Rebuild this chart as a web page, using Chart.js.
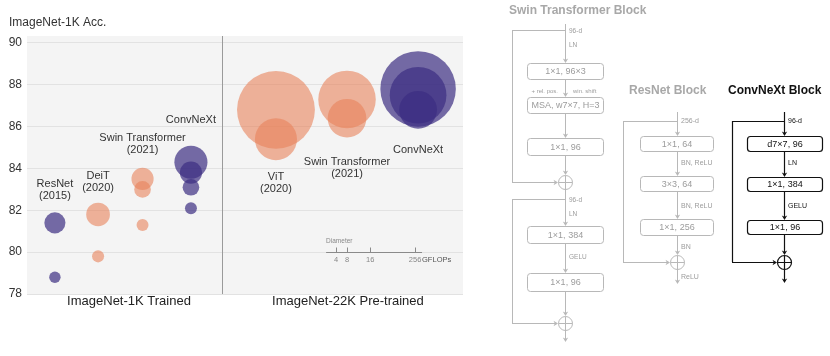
<!DOCTYPE html>
<html>
<head>
<meta charset="utf-8">
<script src="https://cdn.jsdelivr.net/npm/chart.js@4.4.1/dist/chart.umd.min.js"></script>
<style>
  html, body { margin: 0; padding: 0; background: #fff; }
  #wrap { width: 830px; height: 356px; }
</style>
</head>
<body>
<div id="wrap"><canvas id="accChart" width="830" height="356"></canvas></div>
<script>
// model families, left four trained on ImageNet-1K, right three pre-trained on 22K
const familyNames = ['ResNet', 'DeiT', 'Swin Transformer', 'ConvNeXt', 'ViT', 'Swin Transformer', 'ConvNeXt'];
const familyYears = ['(2015)', '(2020)', '(2021)', '', '(2020)', '(2021)', ''];
const familyColors = ['purple', 'orange', 'orange', 'purple', 'orange', 'orange', 'purple'];
const familyX = [0.64, 1.63, 2.65, 3.76, 5.71, 7.34, 8.97];
const familyLabelY = [83.26, 83.64, 85.46, 86.32, 83.6, 84.31, 84.89];

// top-1 accuracy and GFLOPs per model, one inner list per family
const familyAcc = [
    [78.8, 81.4],
    [79.8, 81.8],
    [81.3, 83.0, 83.5],
    [82.1, 83.1, 83.8, 84.3],
    [85.4, 86.8],
    [86.4, 87.3],
    [86.8, 87.5, 87.8],
];
const familyGflops = [
    [4.1, 14.0],
    [4.6, 17.6],
    [4.5, 8.7, 15.4],
    [4.5, 8.7, 15.4, 34.4],
    [55.5, 190.7],
    [47.0, 103.9],
    [45.1, 101.0, 179.0],
];

const yTicks = [78, 80, 82, 84, 86, 88, 90];
const groupTitles = ['ImageNet-1K Trained', 'ImageNet-22K Pre-trained'];
const groupTickX = [2.34, 7.36];
const dividerX = 4.47;
const legendGflops = [4, 8, 16, 256];
const legendTickX = [7.09, 7.34, 7.87, 8.90];

const FONT = "'Liberation Sans', Arial, Helvetica, sans-serif";
const colorMap = { orange: 'rgba(232,130,90,0.6)', purple: 'rgba(60,45,130,0.7)' };

// diameter grows with sqrt of FLOPs
function radiusFor(gflops) {
    return 2.82 * Math.sqrt(gflops);
}

function bubblesFor(color) {
    var pts = [];
    familyNames.forEach((name, i) => {
        if (familyColors[i] != color) return;
        familyAcc[i].forEach((acc, j) => {
            pts.push({ x: familyX[i], y: acc, r: radiusFor(familyGflops[i][j]) });
        });
    });
    pts.sort((a, b) => b.r - a.r);
    return pts;
}

const plotDecor = {
    id: 'plotDecor',
    beforeDraw(chart) {
        const { ctx, chartArea: a } = chart;
        ctx.save();
        ctx.fillStyle = '#f4f4f4';
        ctx.fillRect(a.left, a.top, a.right - a.left, a.bottom - a.top);
        ctx.restore();
    },
    beforeDatasetsDraw(chart) {
        const { ctx, chartArea: a, scales } = chart;
        const x = Math.round(scales.x.getPixelForValue(dividerX)) + 0.5;
        ctx.save();
        ctx.strokeStyle = '#9a9a9a';
        ctx.lineWidth = 1;
        ctx.beginPath();
        ctx.moveTo(x, a.top);
        ctx.lineTo(x, a.bottom);
        ctx.stroke();
        ctx.restore();
    },
    afterDatasetsDraw(chart) {
        const { ctx, scales } = chart;
        ctx.save();
        // y axis title
        ctx.fillStyle = '#333';
        ctx.font = '12px ' + FONT;
        ctx.textAlign = 'left';
        ctx.textBaseline = 'alphabetic';
        ctx.fillText('ImageNet-1K Acc.', 9, 26);

        // family labels
        ctx.font = '11px ' + FONT;
        ctx.textAlign = 'center';
        ctx.textBaseline = 'middle';
        familyNames.forEach((name, i) => {
            const px = scales.x.getPixelForValue(familyX[i]);
            const py = scales.y.getPixelForValue(familyLabelY[i]);
            ctx.fillText(name, px, py);
            if (familyYears[i]) ctx.fillText(familyYears[i], px, py + 12);
        });

        // diameter legend, sits on the 80 line
        const ly = Math.round(scales.y.getPixelForValue(80)) + 0.5;
        const lx0 = scales.x.getPixelForValue(6.86);
        const lx1 = scales.x.getPixelForValue(9.06);
        ctx.strokeStyle = '#8a8a8a';
        ctx.lineWidth = 1;
        ctx.beginPath();
        ctx.moveTo(lx0, ly);
        ctx.lineTo(lx1, ly);
        legendTickX.forEach(v => {
            const tx = Math.round(scales.x.getPixelForValue(v)) + 0.5;
            ctx.moveTo(tx, ly);
            ctx.lineTo(tx, ly - 5);
        });
        ctx.stroke();
        ctx.fillStyle = '#888';
        ctx.font = '6.5px ' + FONT;
        ctx.textAlign = 'left';
        ctx.fillText('Diameter', lx0, ly - 11);
        ctx.font = '7.5px ' + FONT;
        ctx.textAlign = 'center';
        legendGflops.forEach((g, i) => {
            ctx.fillText(String(g), scales.x.getPixelForValue(legendTickX[i]), ly + 7);
        });
        ctx.fillStyle = '#555';
        ctx.textAlign = 'left';
        ctx.fillText('GFLOPs', scales.x.getPixelForValue(legendTickX[3]) + 7, ly + 7);
        ctx.restore();
    },
    afterDraw(chart) {
        drawBlocks(chart.ctx);
    }
};

// ---- block diagrams on the right ----
function drawBlocks(ctx) {
    function vline(x, y1, y2, arrow) {
        ctx.beginPath();
        ctx.moveTo(x + 0.5, y1);
        ctx.lineTo(x + 0.5, arrow ? y2 - 3 : y2);
        ctx.stroke();
        if (arrow) {
            ctx.beginPath();
            ctx.moveTo(x + 0.5, y2);
            ctx.lineTo(x - 2.2, y2 - 4.5);
            ctx.lineTo(x + 0.5, y2 - 3.2);
            ctx.lineTo(x + 3.2, y2 - 4.5);
            ctx.closePath();
            ctx.fill();
        }
    }
    function hline(x1, x2, y, arrow) {
        ctx.beginPath();
        ctx.moveTo(x1, y + 0.5);
        ctx.lineTo(arrow ? x2 - 3 : x2, y + 0.5);
        ctx.stroke();
        if (arrow) {
            ctx.beginPath();
            ctx.moveTo(x2, y + 0.5);
            ctx.lineTo(x2 - 4.5, y - 2.2);
            ctx.lineTo(x2 - 3.2, y + 0.5);
            ctx.lineTo(x2 - 4.5, y + 3.2);
            ctx.closePath();
            ctx.fill();
        }
    }
    function box(x1, y1, x2, y2, text, textColor) {
        ctx.beginPath();
        ctx.roundRect(x1 + 0.5, y1 + 0.5, x2 - x1, y2 - y1, 3);
        ctx.fillStyle = '#fff';
        ctx.fill();
        ctx.stroke();
        ctx.fillStyle = textColor;
        ctx.font = '9px ' + FONT;
        ctx.textAlign = 'center';
        ctx.textBaseline = 'middle';
        ctx.fillText(text, (x1 + x2) / 2 + 0.5, (y1 + y2) / 2 + 1);
    }
    function addNode(x, y) {
        ctx.beginPath();
        ctx.arc(x + 0.5, y + 0.5, 7, 0, Math.PI * 2);
        ctx.moveTo(x + 0.5, y - 6.5);
        ctx.lineTo(x + 0.5, y + 7.5);
        ctx.moveTo(x - 6.5, y + 0.5);
        ctx.lineTo(x + 7.5, y + 0.5);
        ctx.stroke();
    }
    function note(text, x, y, color, align, size) {
        ctx.fillStyle = color;
        ctx.font = (size || 7) + 'px ' + FONT;
        ctx.textAlign = align || 'left';
        ctx.textBaseline = 'middle';
        ctx.fillText(text, x, y);
    }
    function title(text, x, y, color) {
        ctx.fillStyle = color;
        ctx.font = 'bold 12px ' + FONT;
        ctx.textAlign = 'left';
        ctx.textBaseline = 'alphabetic';
        ctx.fillText(text, x, y);
    }

    ctx.save();
    const gLine = '#b8b8b8', gText = '#9c9c9c';

    // Swin Transformer block
    title('Swin Transformer Block', 509, 14, '#a8a8a8');
    let cx = 565;
    ctx.strokeStyle = gLine;
    ctx.fillStyle = gLine;
    ctx.lineWidth = 1;
    vline(cx, 24, 63, true);
    hline(512, cx, 30); vline(512, 30, 182); hline(512, 558, 182, true);
    note('96-d', cx + 4, 31, gText, 'left', 6.5);
    note('LN', cx + 4, 45, gText, 'left', 6.5);
    box(527, 63, 603, 79, '1\u00d71, 96\u00d73', gText);
    ctx.fillStyle = gLine;
    vline(cx, 79, 97, true);
    note('+ rel. pos.', cx - 7, 91, gText, 'right', 6);
    note('win. shift', cx + 8, 91, gText, 'left', 6);
    box(527, 97, 603, 113, 'MSA, w7\u00d77, H=3', gText);
    ctx.fillStyle = gLine;
    vline(cx, 113, 138, true);
    box(527, 138, 603, 155, '1\u00d71, 96', gText);
    ctx.fillStyle = gLine;
    vline(cx, 155, 175, true);
    addNode(cx, 182);
    vline(cx, 189, 226, true);
    hline(512, cx, 199); vline(512, 199, 323); hline(512, 558, 323, true);
    note('96-d', cx + 4, 200, gText, 'left', 6.5);
    note('LN', cx + 4, 214, gText, 'left', 6.5);
    box(527, 226, 603, 243, '1\u00d71, 384', gText);
    ctx.fillStyle = gLine;
    vline(cx, 243, 273, true);
    note('GELU', cx + 4, 257, gText, 'left', 6.5);
    box(527, 273, 603, 291, '1\u00d71, 96', gText);
    ctx.fillStyle = gLine;
    vline(cx, 291, 316, true);
    addNode(cx, 323);
    vline(cx, 330, 342, true);

    // ResNet block
    title('ResNet Block', 629, 94, '#a8a8a8');
    cx = 677;
    ctx.fillStyle = gLine;
    vline(cx, 112, 136, true);
    hline(623, cx, 121); vline(623, 121, 262); hline(623, 670, 262, true);
    note('256-d', cx + 4, 121, gText);
    box(640, 136, 713, 151, '1\u00d71, 64', gText);
    ctx.fillStyle = gLine;
    vline(cx, 151, 176, true);
    note('BN, ReLU', cx + 4, 163, gText);
    box(640, 176, 713, 191, '3\u00d73, 64', gText);
    ctx.fillStyle = gLine;
    vline(cx, 191, 219, true);
    note('BN, ReLU', cx + 4, 206, gText);
    box(640, 219, 713, 235, '1\u00d71, 256', gText);
    ctx.fillStyle = gLine;
    vline(cx, 235, 255, true);
    note('BN', cx + 4, 247, gText);
    addNode(cx, 262);
    ctx.fillStyle = gLine;
    vline(cx, 269, 284, true);
    note('ReLU', cx + 4, 277, gText);

    // ConvNeXt block
    title('ConvNeXt Block', 728, 94, '#111');
    cx = 784;
    ctx.strokeStyle = '#111';
    ctx.fillStyle = '#111';
    ctx.lineWidth = 1.2;
    vline(cx, 112, 136, true);
    hline(732, cx, 121); vline(732, 121, 262); hline(732, 777, 262, true);
    note('96-d', cx + 4, 121, '#111');
    box(747, 136, 822, 151, 'd7\u00d77, 96', '#111');
    ctx.fillStyle = '#111';
    vline(cx, 151, 177, true);
    note('LN', cx + 4, 163, '#111');
    box(747, 177, 822, 191, '1\u00d71, 384', '#111');
    ctx.fillStyle = '#111';
    vline(cx, 191, 220, true);
    note('GELU', cx + 4, 206, '#111');
    box(747, 220, 822, 234, '1\u00d71, 96', '#111');
    ctx.fillStyle = '#111';
    vline(cx, 234, 255, true);
    addNode(cx, 262);
    vline(cx, 269, 283, true);
    ctx.restore();
}

const ctx = document.getElementById('accChart').getContext('2d');
new Chart(ctx, {
    type: 'bubble',
    data: {
        datasets: [
            { label: 'orange', data: bubblesFor('orange'), backgroundColor: colorMap.orange, borderWidth: 0, hoverRadius: 0 },
            { label: 'purple', data: bubblesFor('purple'), backgroundColor: colorMap.purple, borderWidth: 0, hoverRadius: 0 },
        ],
    },
    options: {
        responsive: false,
        animation: false,
        events: [],
        layout: { autoPadding: false, padding: { left: 8, top: 36, right: 367, bottom: 0 } },
        plugins: { legend: { display: false }, tooltip: { enabled: false } },
        scales: {
            x: {
                type: 'linear',
                min: 0,
                max: 10,
                grid: { display: false, drawTicks: false },
                border: { display: false },
                afterBuildTicks: (scale) => { scale.ticks = groupTickX.map(v => ({ value: v })); },
                afterFit: (scale) => { scale.height = 62; },
                ticks: {
                    autoSkip: false,
                    maxRotation: 0,
                    padding: 0,
                    color: '#222',
                    font: { family: FONT, size: 13 },
                    callback: (value, index) => groupTitles[index],
                },
            },
            y: {
                type: 'linear',
                min: 78,
                max: 90.33,
                grid: { color: '#e2e2e2', drawTicks: false },
                border: { display: false },
                afterBuildTicks: (scale) => { scale.ticks = yTicks.map(v => ({ value: v })); },
                afterFit: (scale) => { scale.width = 19; },
                ticks: {
                    padding: 5,
                    color: '#333',
                    font: { family: FONT, size: 12 },
                },
            },
        },
    },
    plugins: [plotDecor],
});
</script>
</body>
</html>
